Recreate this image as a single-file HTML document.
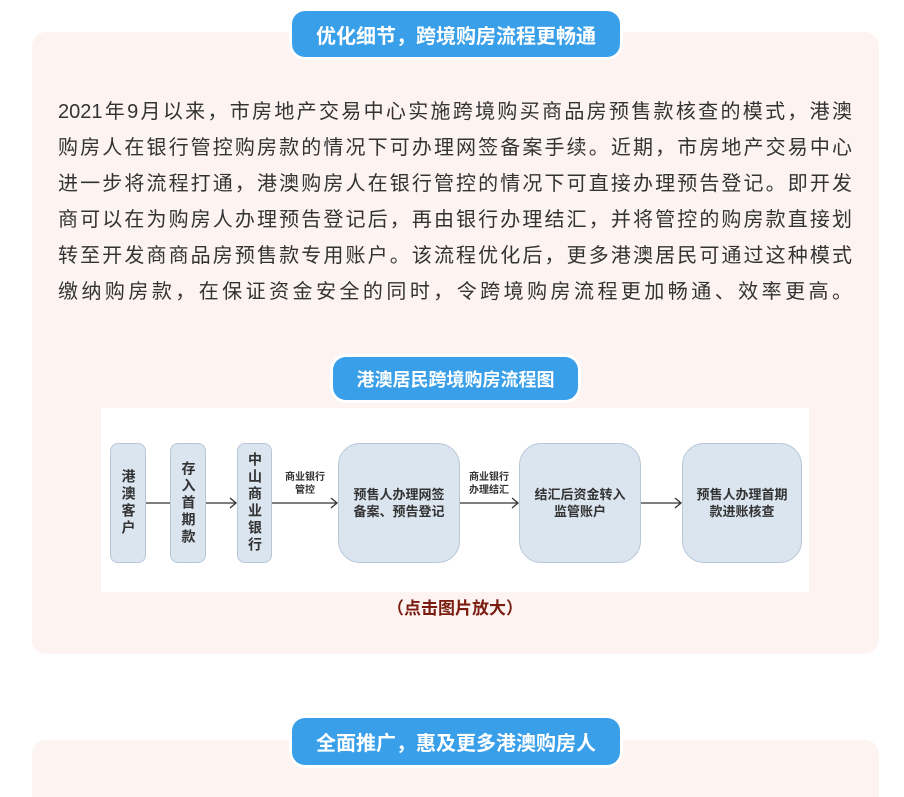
<!DOCTYPE html>
<html style="width:904px;height:797px;overflow:hidden"><head><meta charset="utf-8"><style>
*{margin:0;padding:0;box-sizing:border-box}
body{width:904px;height:797px;background:#fff;position:relative;overflow:hidden;font-family:"Liberation Sans","Noto Sans CJK SC",sans-serif}
.card{position:absolute;left:32px;width:847px;background:#fdf4f2;border-radius:14px}
.pill{position:absolute;background:#3a9fe9;color:#fff;font-weight:bold;border-radius:13px;box-shadow:0 0 0 3px #fff;display:flex;align-items:center;justify-content:center}
.txt{position:absolute;left:58px;top:94px;width:794px;font-size:20px;color:#333}
.txt div{height:36px;line-height:36px;text-align:justify;text-align-last:justify;white-space:nowrap}
.dia{position:absolute;left:101px;top:408px;width:708px;height:184px;background:#fff}
.b{position:absolute;background:#dbe5f0;border:1px solid #b8c6d6;border-radius:8px;display:flex;align-items:center;justify-content:center;text-align:center;font-size:13px;font-weight:bold;color:#333;line-height:17px}
.v{writing-mode:vertical-rl;font-size:14px;letter-spacing:3px}
.big{border-radius:22px}
.lbl{position:absolute;font-size:10px;font-weight:bold;color:#333;line-height:13px;text-align:center}
</style></head><body>
<div class="card" style="top:32px;height:622px"></div>
<div class="pill" style="left:292px;top:11px;width:328px;height:46px;font-size:20px">优化细节，跨境购房流程更畅通</div>
<div class="txt">
<div>2021年9月以来，市房地产交易中心实施跨境购买商品房预售款核查的模式，港澳</div>
<div>购房人在银行管控购房款的情况下可办理网签备案手续。近期，市房地产交易中心</div>
<div>进一步将流程打通，港澳购房人在银行管控的情况下可直接办理预告登记。即开发</div>
<div>商可以在为购房人办理预告登记后，再由银行办理结汇，并将管控的购房款直接划</div>
<div>转至开发商商品房预售款专用账户。该流程优化后，更多港澳居民可通过这种模式</div>
<div>缴纳购房款，在保证资金安全的同时，令跨境购房流程更加畅通、效率更高。</div>
</div>
<div class="pill" style="left:333px;top:357px;width:245px;height:43px;font-size:18px">港澳居民跨境购房流程图</div>
<div class="dia">
<svg width="708" height="184" style="position:absolute;left:0;top:0" fill="none" stroke="#333" stroke-width="1.3">
<line x1="45" y1="95" x2="69" y2="95"/>
<line x1="105" y1="95" x2="135" y2="95"/><polyline points="129,90 135,95 129,100"/>
<line x1="171" y1="95" x2="236" y2="95"/><polyline points="230,90 236,95 230,100"/>
<line x1="359" y1="95" x2="417" y2="95"/><polyline points="411,90 417,95 411,100"/>
<line x1="540" y1="95" x2="580" y2="95"/><polyline points="574,90 580,95 574,100"/>
</svg>
<div class="b v" style="left:9px;top:35px;width:36px;height:120px">港澳客户</div>
<div class="b v" style="left:69px;top:35px;width:36px;height:120px">存入首期款</div>
<div class="b v" style="left:136px;top:35px;width:35px;height:120px">中山商业银行</div>
<div class="b big" style="left:237px;top:35px;width:122px;height:120px">预售人办理网签<br>备案、预告登记</div>
<div class="b big" style="left:418px;top:35px;width:122px;height:120px">结汇后资金转入<br>监管账户</div>
<div class="b big" style="left:581px;top:35px;width:120px;height:120px">预售人办理首期<br>款进账核查</div>
<div class="lbl" style="left:178px;top:63px;width:52px">商业银行<br>管控</div>
<div class="lbl" style="left:362px;top:63px;width:52px">商业银行<br>办理结汇</div>
</div>
<div style="position:absolute;left:355px;top:594px;width:200px;text-align:center;font-size:17px;font-weight:bold;color:#7a1d10">（点击图片放大）</div>
<div class="card" style="top:740px;height:57px;border-radius:14px 14px 0 0"></div>
<div class="pill" style="left:292px;top:718px;width:328px;height:47px;font-size:20px">全面推广，惠及更多港澳购房人</div>
</body></html>
